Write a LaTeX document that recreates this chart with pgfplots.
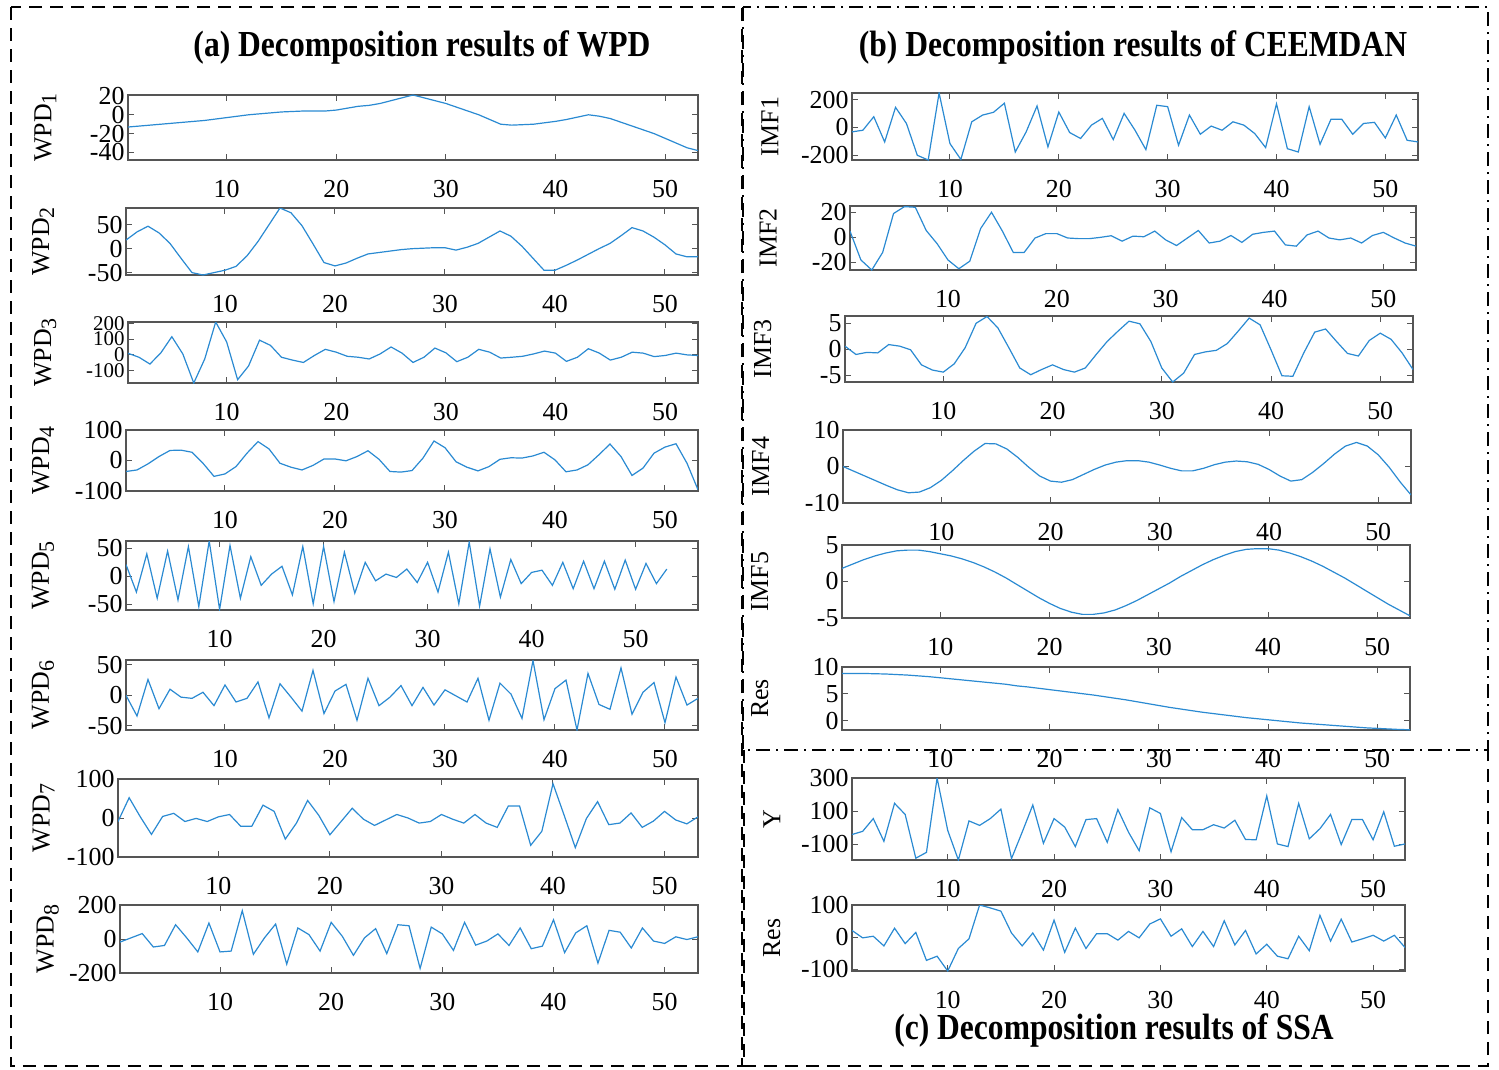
\documentclass[border=0pt]{standalone}
\usepackage{fontspec}
\setmainfont{Liberation Serif}
\usepackage{pgfplots}
\pgfplotsset{compat=1.18}
\definecolor{mblue}{HTML}{2A8AD2}
\definecolor{boxgray}{HTML}{555555}

\newcommand\sub[1]{\raisebox{-0.42ex}{\fontsize{22}{24}\selectfont #1}}
\newcommand\ttl[1]{\scalebox{0.99}[1.15]{#1}}

\pgfplotsset{
  dec/.style={
    scale only axis, enlargelimits=false,
    xmin=1, xmax=53,
    xtick={10,20,30,40,50},
    tick align=inside, tick pos=both, major tick length=6bp,
    axis line style={boxgray, line width=1.3bp},
    every tick/.style={boxgray, line width=1bp},
    font=\fontsize{26}{30}\selectfont,
    tick label style={font=\fontsize{26}{30}\selectfont},
    /pgf/number format/assume math mode=true,
    xticklabel style={yshift=-17bp},
    yticklabel style={inner ysep=0bp},
    ylabel style={at={(axis description cs:-0.145,0.5)}, anchor=center},
    no markers,
    every axis plot post/.append style={mblue, line width=1.2bp},
  },
  place/.style n args={4}{at={(#1bp,-#2bp)}, anchor=south west, width=#3bp, height=#4bp},
  /pgfplots/table/ser/.style={header=false, x expr=\coordindex+1, y index=0, row sep=\\},
}

\begin{document}
\begin{tikzpicture}
\useasboundingbox (0,0) rectangle (1499bp,-1070bp);

% frames
\draw[black, line width=1.6bp, dash pattern=on 13bp off 8bp]
  (11bp,-7bp) rectangle (742bp,-1066bp);
\draw[black, line width=1.6bp, dash pattern=on 14bp off 6bp on 2bp off 6bp]
  (743bp,-7bp) rectangle (1488bp,-750bp);
\draw[black, line width=1.6bp, dash pattern=on 13bp off 8bp]
  (744bp,-750bp) -- (744bp,-1066bp) -- (1488bp,-1066bp) -- (1488bp,-750bp);

\node[font=\bfseries\fontsize{32}{36}\selectfont] at (422bp,-47bp) {\ttl{(a) Decomposition results of WPD}};
\node[font=\bfseries\fontsize{32}{36}\selectfont] at (1133bp,-47bp) {\ttl{(b) Decomposition results of CEEMDAN}};
\node[font=\bfseries\fontsize{32}{36}\selectfont] at (1114bp,-1030bp) {\ttl{(c) Decomposition results of SSA}};

% ---------- (a) WPD ----------
\begin{axis}[dec, place={128}{160}{570}{65}, ymin=-48, ymax=21, ytick={-40,-20,0,20},
  ylabel={WPD\sub{1}}]
\addplot table[ser]{-13\\-12\\-11\\-10\\-9\\-8\\-7\\-6\\-4.5\\-3\\-1.5\\0\\1\\2\\3\\3.5\\4\\4\\4\\5\\7\\9\\10\\12\\15\\18\\21\\18\\15\\12\\8\\4\\0\\-5\\-10\\-11\\-10.5\\-10\\-8.5\\-7\\-5\\-2.5\\0\\-1.5\\-4\\-8\\-12\\-16\\-20\\-25\\-30\\-35\\-38\\};
\end{axis}

\begin{axis}[dec, place={126}{275}{572}{67}, ymin=-55, ymax=85, ytick={-50,0,50},
  ylabel={WPD\sub{2}}]
\addplot table[ser]{18\\35\\47\\33\\11\\-20\\-50\\-55\\-50\\-45\\-37\\-15\\15\\50\\85\\75\\48\\10\\-29\\-36\\-30\\-20\\-11\\-8\\-5\\-2\\0\\1\\2\\2\\-3\\3\\11\\24\\37\\26\\5\\-20\\-45\\-45\\-35\\-24\\-12\\0\\11\\27\\44\\37\\24\\8\\-11\\-17\\-17\\};
\end{axis}

\begin{axis}[dec, place={128}{383}{570}{61}, ymin=-178, ymax=208, ytick={-100,0,100,200},
  yticklabel style={font=\fontsize{21}{24}\selectfont},
  ylabel={WPD\sub{3}}]
\addplot table[ser]{10\\-15\\-58\\13\\115\\6\\-178\\-26\\208\\82\\-157\\-70\\93\\60\\-15\\-33\\-48\\-4\\35\\17\\-9\\-15\\-26\\6\\50\\11\\-48\\-15\\43\\13\\-43\\-15\\35\\17\\-20\\-15\\-9\\6\\24\\11\\-41\\-15\\39\\11\\-33\\-15\\17\\11\\-11\\-4\\11\\0\\-4\\};
\end{axis}

\begin{axis}[dec, place={126}{491}{572}{61}, ymin=-100, ymax=100, ytick={-100,0,100},
  ylabel={WPD\sub{4}}]
\addplot table[ser]{-36\\-31\\-11\\13\\33\\34\\27\\-9\\-52\\-44\\-20\\24\\62\\38\\-9\\-22\\-31\\-16\\5\\5\\-1\\13\\32\\4\\-36\\-38\\-33\\8\\64\\42\\-4\\-22\\-34\\-20\\4\\9\\8\\15\\27\\2\\-37\\-31\\-14\\19\\54\\13\\-49\\-25\\24\\44\\55\\-9\\-96\\};
\end{axis}

\begin{axis}[dec, place={126}{610}{572}{69}, xmax=56, ymin=-60, ymax=63, ytick={-50,0,50},
  ylabel={WPD\sub{5}}]
\addplot table[ser]{21\\-28\\40\\-39\\45\\-42\\53\\-54\\63\\-59\\55\\-39\\35\\-16\\4\\18\\-33\\53\\-49\\53\\-45\\43\\-30\\25\\-8\\4\\-2\\13\\-11\\25\\-28\\43\\-49\\61\\-53\\49\\-37\\30\\-13\\7\\11\\-16\\25\\-22\\27\\-22\\27\\-23\\29\\-23\\23\\-13\\13\\};
\end{axis}

\begin{axis}[dec, place={126}{730}{572}{70}, ymin=-57, ymax=58, ytick={-50,0,50},
  ylabel={WPD\sub{6}}]
\addplot table[ser]{0\\-34\\26\\-22\\10\\-3\\-5\\5\\-17\\17\\-11\\-5\\22\\-37\\19\\-3\\-26\\41\\-30\\7\\18\\-41\\28\\-17\\-3\\16\\-17\\13\\-16\\9\\-1\\-11\\28\\-41\\20\\2\\-38\\57\\-40\\11\\25\\-57\\36\\-15\\-23\\45\\-31\\5\\21\\-45\\30\\-16\\-5\\};
\end{axis}

\begin{axis}[dec, place={118}{857}{580}{78}, ymin=-100, ymax=100, ytick={-100,0,100},
  ylabel={WPD\sub{7}}, ylabel style={at={(axis description cs:-0.128,0.5)}}]
\addplot table[ser]{-9\\52\\3\\-42\\4\\12\\-9\\-1\\-9\\3\\9\\-21\\-21\\33\\17\\-54\\-13\\45\\7\\-43\\-9\\25\\-3\\-19\\-5\\9\\0\\-13\\-9\\9\\-3\\-13\\9\\-13\\-24\\31\\31\\-70\\-34\\88\\7\\-76\\-1\\42\\-17\\-13\\13\\-24\\-8\\17\\-5\\-15\\3\\};
\end{axis}

\begin{axis}[dec, place={120}{973}{578}{68}, ymin=-200, ymax=200, ytick={-200,0,200},
  ylabel={WPD\sub{8}}, ylabel style={at={(axis description cs:-0.125,0.5)}}]
\addplot table[ser]{-18\\7\\32\\-47\\-38\\84\\7\\-76\\94\\-76\\-71\\167\\-90\\7\\88\\-148\\65\\26\\-71\\98\\16\\-96\\7\\61\\-86\\84\\78\\-173\\70\\30\\-67\\98\\-36\\-12\\30\\-38\\65\\-57\\-42\\113\\-80\\36\\78\\-142\\51\\40\\-53\\65\\-12\\-26\\13\\-3\\13\\};
\end{axis}

% ---------- (b) CEEMDAN ----------
\begin{axis}[dec, place={852}{160}{566}{67}, ymin=-236, ymax=250, ytick={-200,0,200},
  ylabel={IMF1}]
\addplot table[ser]{-32\\-20\\78\\-105\\146\\29\\-202\\-236\\250\\-117\\-232\\41\\90\\110\\176\\-178\\-32\\156\\-141\\112\\-37\\-80\\17\\66\\-88\\102\\-20\\-161\\161\\151\\-129\\90\\-49\\10\\-20\\41\\17\\-44\\-146\\171\\-154\\-178\\151\\-122\\59\\59\\-49\\29\\37\\-76\\90\\-93\\-105\\};
\end{axis}

\begin{axis}[dec, place={850}{270}{566}{64}, ymin=-26, ymax=25, ytick={-20,0,20},
  ylabel={IMF2}]
\addplot table[ser]{5\\-18\\-26\\-12\\19\\24.5\\24\\5.5\\-5\\-18\\-25\\-19\\7\\20\\5\\-12\\-12\\-0.5\\3\\3\\-0.5\\-1\\-1\\0\\1.3\\-3\\1\\0.5\\5\\-2\\-6.5\\-0.5\\5.5\\-4.5\\-3\\1.5\\-4\\2.5\\4\\5\\-6\\-7\\2\\5\\-0.5\\-2\\-0.5\\-4.5\\1.5\\4\\-0.5\\-4.5\\-7\\};
\end{axis}

\begin{axis}[dec, place={845}{382}{568}{66}, ymin=-6.3, ymax=6.4, ytick={-5,0,5},
  ylabel={IMF3}]
\addplot table[ser]{0.6\\-1\\-0.6\\-0.7\\0.9\\0.6\\-0.1\\-3\\-4\\-4.4\\-2.8\\0.3\\5\\6.3\\4.1\\0.3\\-3.6\\-4.9\\-3.9\\-3\\-3.9\\-4.4\\-3.6\\-1\\1.5\\3.5\\5.4\\4.9\\1.5\\-3.6\\-6.3\\-4.6\\-1\\-0.5\\-0.2\\1.1\\3.5\\6\\4.7\\-0.1\\-5.1\\-5.2\\-0.7\\3.3\\3.9\\1.5\\-0.8\\-1.3\\1.7\\3.1\\1.9\\-0.7\\-3.9\\};
\end{axis}

\begin{axis}[dec, place={843}{503}{568}{73}, ymin=-10, ymax=10, ytick={-10,0,10},
  ylabel={IMF4}]
\addplot table[ser]{0\\-1.3\\-2.6\\-3.9\\-5.2\\-6.4\\-7.2\\-7\\-5.8\\-3.8\\-1.2\\1.6\\4.2\\6.3\\6.2\\4.8\\2.5\\-0.2\\-2.6\\-4\\-4.3\\-3.6\\-2.2\\-0.8\\0.4\\1.2\\1.6\\1.6\\1.2\\0.4\\-0.5\\-1.2\\-1.2\\-0.5\\0.5\\1.2\\1.5\\1.3\\0.6\\-0.8\\-2.6\\-4\\-3.6\\-1.6\\0.8\\3.4\\5.6\\6.6\\5.6\\3.2\\-0.2\\-4.2\\-7.8\\};
\end{axis}

\begin{axis}[dec, place={842}{618}{568}{73}, ymin=-5, ymax=5, ytick={-5,0,5},
  ylabel={IMF5}]
\addplot table[ser]{1.8\\2.4\\3\\3.5\\3.9\\4.2\\4.3\\4.3\\4.1\\3.8\\3.5\\3.1\\2.6\\2\\1.3\\0.5\\-0.4\\-1.3\\-2.2\\-3\\-3.7\\-4.2\\-4.5\\-4.5\\-4.3\\-3.9\\-3.3\\-2.6\\-1.8\\-1\\-0.2\\0.7\\1.5\\2.3\\3\\3.6\\4.1\\4.4\\4.5\\4.5\\4.3\\3.9\\3.4\\2.8\\2.1\\1.3\\0.5\\-0.4\\-1.3\\-2.2\\-3.1\\-3.9\\-4.7\\};
\end{axis}

\begin{axis}[dec, place={842}{730}{568}{63}, ymin=-1.7, ymax=10, ytick={0,5,10},
  ylabel={Res}]
\addplot table[ser]{8.8\\8.8\\8.8\\8.75\\8.7\\8.6\\8.5\\8.35\\8.2\\8.0\\7.8\\7.6\\7.4\\7.2\\7.0\\6.8\\6.5\\6.3\\6.05\\5.8\\5.55\\5.3\\5.05\\4.8\\4.5\\4.2\\3.9\\3.55\\3.2\\2.85\\2.5\\2.2\\1.9\\1.6\\1.35\\1.1\\0.85\\0.6\\0.4\\0.2\\0\\-0.2\\-0.4\\-0.55\\-0.7\\-0.85\\-1.0\\-1.15\\-1.3\\-1.4\\-1.5\\-1.6\\-1.65\\};
\end{axis}

% ---------- (c) SSA ----------
\begin{axis}[dec, place={852}{860}{553}{82}, ymin=-195, ymax=300, ytick={-100,100,300},
  ylabel={Y}]
\addplot table[ser]{-41\\-22\\55\\-82\\147\\80\\-184\\-149\\300\\-16\\-195\\41\\14\\55\\112\\-186\\-27\\137\\-94\\55\\4\\-114\\49\\55\\-88\\110\\-27\\-139\\120\\86\\-145\\61\\-12\\-12\\18\\-2\\45\\-71\\-73\\192\\-98\\-114\\147\\-67\\-6\\80\\-102\\49\\49\\-73\\96\\-112\\-98\\};
\end{axis}

\begin{axis}[dec, place={852}{971}{553}{66}, ymin=-105, ymax=100, ytick={-100,0,100},
  ylabel={Res}]
\addplot table[ser]{21\\-2\\3\\-27\\28\\-20\\15\\-72\\-59\\-105\\-35\\-5\\100\\91\\81\\13\\-27\\13\\-40\\53\\-47\\28\\-35\\11\\11\\-9\\18\\-2\\41\\57\\3\\26\\-29\\18\\-29\\51\\-24\\21\\-52\\-22\\-59\\-67\\3\\-42\\68\\-12\\56\\-15\\-5\\6\\-12\\6\\-32\\};
\end{axis}
\end{tikzpicture}
\end{document}
